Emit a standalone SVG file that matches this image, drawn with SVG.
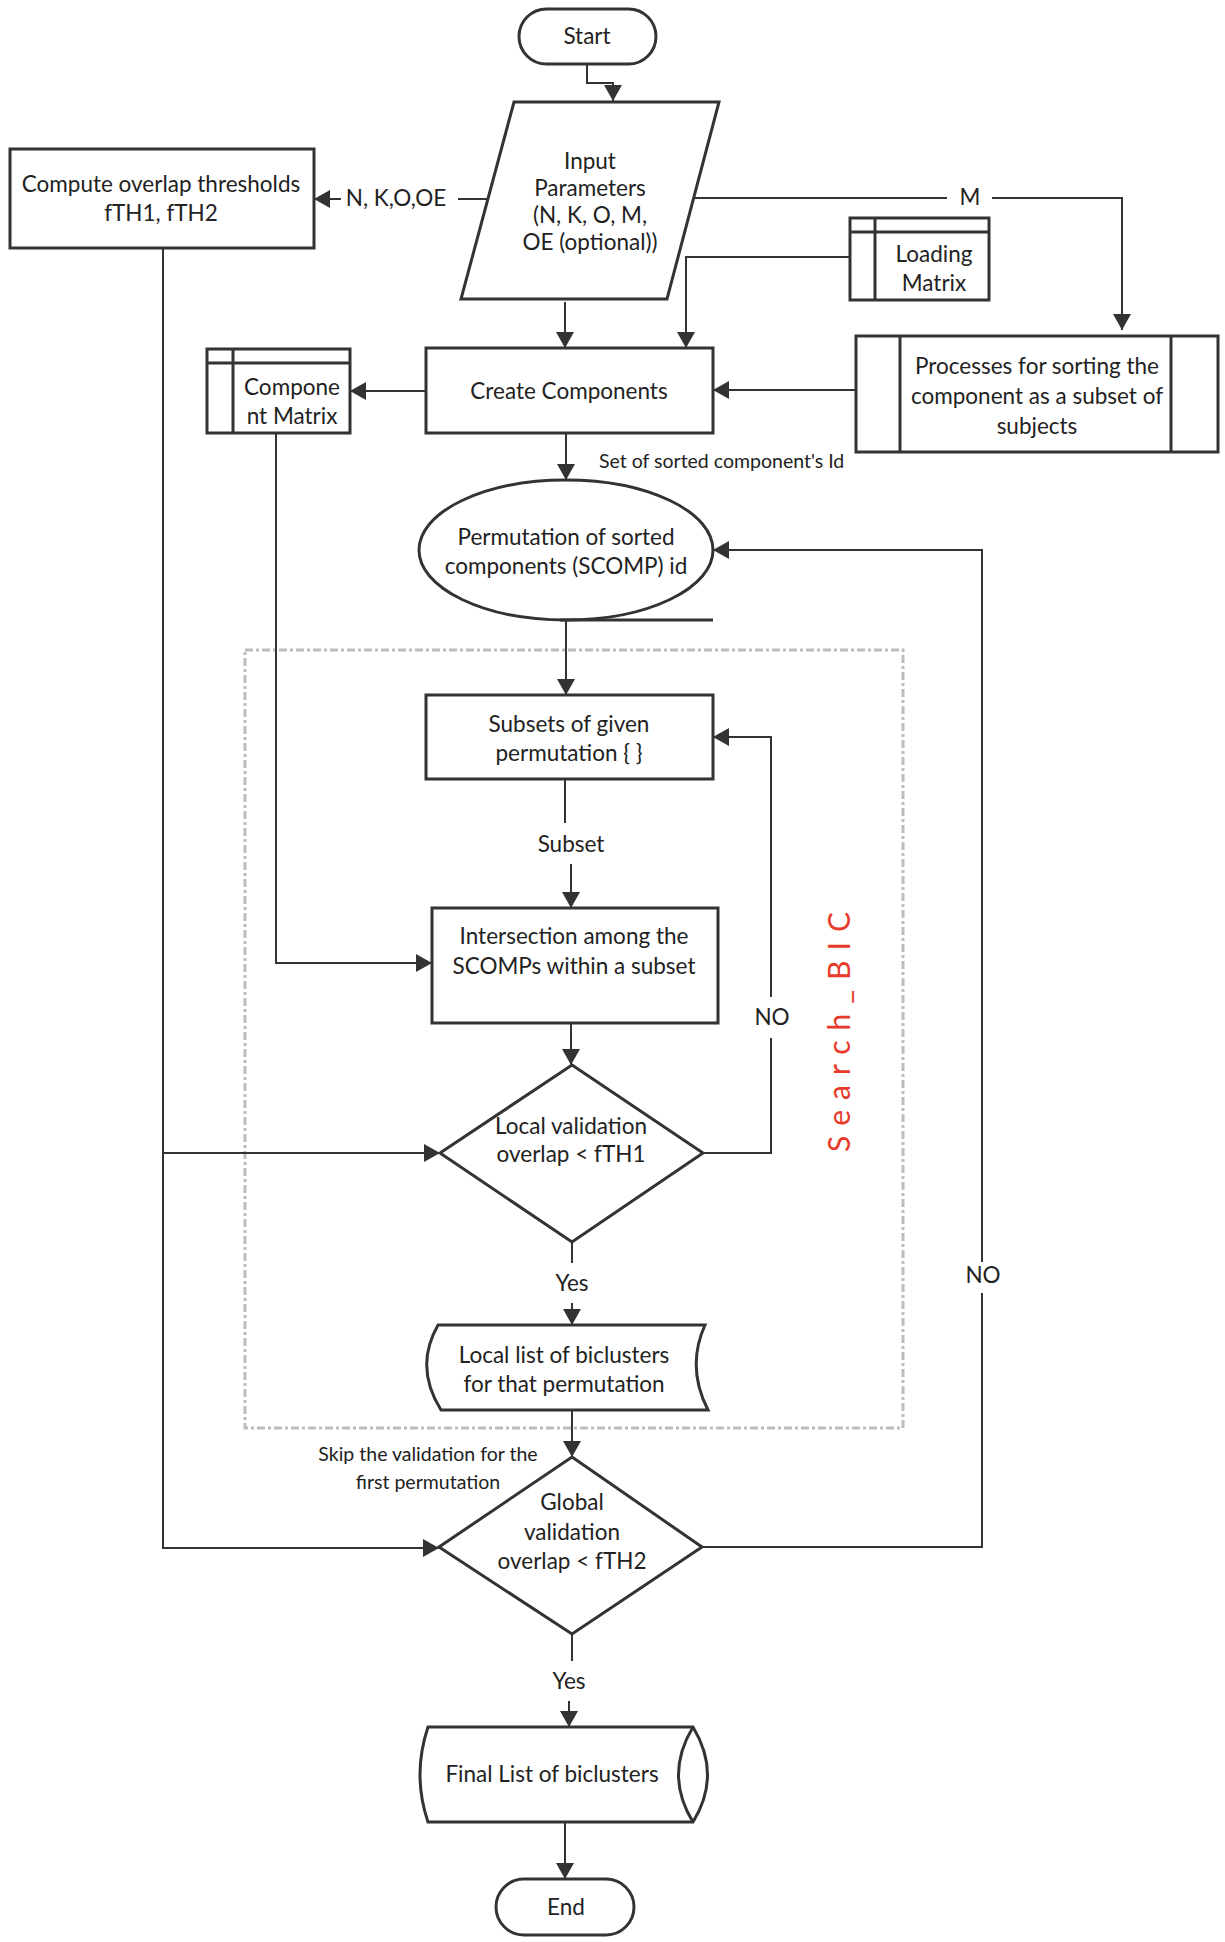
<svg xmlns="http://www.w3.org/2000/svg" width="1225" height="1942" viewBox="0 0 1225 1942">
<defs>
<marker id="arr" markerUnits="userSpaceOnUse" markerWidth="18" markerHeight="20" refX="16" refY="10" orient="auto">
<path d="M0,1 L16,10 L0,19 Z" fill="#333"/>
</marker>
<style>
.shape{fill:#fff;stroke:#333;stroke-width:3;}
.thin{fill:none;stroke:#333;stroke-width:3;}
.con{fill:none;stroke:#333;stroke-width:2;}
.t{font-family:Lato,"Liberation Sans",sans-serif;font-size:22.5px;fill:#222;text-anchor:middle;dominant-baseline:central;}
.s{font-size:19.5px;}
</style>
</defs>
<rect width="1225" height="1942" fill="#fff"/>

<g id="search-bic-group">
<rect x="245" y="650" width="658" height="778" fill="none" stroke="#bcbcbc" stroke-width="3" stroke-dasharray="8 3 3 3"/>
<text class="t" x="838" y="1027" transform="rotate(-90 838 1027)" style="fill:#e8392a;font-size:30px;letter-spacing:10px">Search_BIC</text>
</g>

<g id="connectors">
<path class="con" d="M587,64 V83 H613 V101" marker-end="url(#arr)"/>
<path class="con" d="M488,199 H458"/>
<path class="con" d="M341,199 H314" marker-end="url(#arr)"/>
<path class="con" d="M694,198 H947"/>
<path class="con" d="M992,198 H1122 V330" marker-end="url(#arr)"/>
<path class="con" d="M850,257 H686 V348" marker-end="url(#arr)"/>
<path class="con" d="M565,302 V348" marker-end="url(#arr)"/>
<path class="con" d="M856,390 H713" marker-end="url(#arr)"/>
<path class="con" d="M426,391 H350" marker-end="url(#arr)"/>
<path class="con" d="M566,433 V480" marker-end="url(#arr)"/>
<path class="con" d="M566,621 V695" marker-end="url(#arr)"/>
<path class="con" d="M565,779 V823"/>
<path class="con" d="M571,864 V908" marker-end="url(#arr)"/>
<path class="con" d="M276,433 V963 H432" marker-end="url(#arr)"/>
<path class="con" d="M571,1023 V1065" marker-end="url(#arr)"/>
<path class="con" d="M703,1153 H771 V1038"/>
<path class="con" d="M771,997 V737 H713" marker-end="url(#arr)"/>
<path class="con" d="M572,1242 V1263"/>
<path class="con" d="M572,1303 V1325" marker-end="url(#arr)"/>
<path class="con" d="M572,1411 V1457" marker-end="url(#arr)"/>
<path class="con" d="M163,248 V1548 H439" marker-end="url(#arr)"/>
<path class="con" d="M163,1153 H440" marker-end="url(#arr)"/>
<path class="con" d="M702,1547 H982 V1293"/>
<path class="con" d="M982,1262 V550 H713" marker-end="url(#arr)"/>
<path class="con" d="M572,1634 V1661"/>
<path class="con" d="M569,1701 V1727" marker-end="url(#arr)"/>
<path class="con" d="M565,1822 V1879" marker-end="url(#arr)"/>
<text class="t" x="396" y="197">N, K,O,OE</text>
<text class="t" x="970" y="196">M</text>
<text class="t s" x="599" y="460" style="text-anchor:start">Set of sorted component's Id</text>
<text class="t" x="571" y="843">Subset</text>
<text class="t" x="772" y="1016">NO</text>
<text class="t" x="572" y="1282">Yes</text>
<text class="t" x="983" y="1274">NO</text>
<text class="t s" x="428" y="1453">Skip the validation for the</text>
<text class="t s" x="428" y="1481">first permutation</text>
<text class="t" x="569" y="1680">Yes</text>
</g>

<g id="start">
<rect class="shape" x="519" y="9" width="137" height="55" rx="27.5"/>
<text class="t" x="587" y="35">Start</text>
</g>

<g id="input">
<polygon class="shape" points="514,102 719,102 667,299 461,299"/>
<text class="t" x="590" y="160">Input</text>
<text class="t" x="590" y="187">Parameters</text>
<text class="t" x="590" y="214">(N, K, O, M,</text>
<text class="t" x="590" y="241">OE (optional))</text>
</g>

<g id="compute">
<rect class="shape" x="10" y="149" width="304" height="99"/>
<text class="t" x="161" y="183">Compute overlap thresholds</text>
<text class="t" x="161" y="212">fTH1, fTH2</text>
</g>

<g id="loading-matrix">
<rect class="shape" x="850" y="218" width="139" height="82"/>
<line class="shape" x1="850" y1="232" x2="989" y2="232"/>
<line class="shape" x1="875" y1="218" x2="875" y2="300"/>
<text class="t" x="934" y="253">Loading</text>
<text class="t" x="934" y="282">Matrix</text>
</g>

<g id="processes">
<rect class="shape" x="856" y="336" width="362" height="116"/>
<line class="shape" x1="900" y1="336" x2="900" y2="452"/>
<line class="shape" x1="1171" y1="336" x2="1171" y2="452"/>
<text class="t" x="1037" y="365">Processes for sorting the</text>
<text class="t" x="1037" y="395">component as a subset of</text>
<text class="t" x="1037" y="425">subjects</text>
</g>

<g id="create">
<rect class="shape" x="426" y="348" width="287" height="85"/>
<text class="t" x="569" y="390">Create Components</text>
</g>

<g id="component-matrix">
<rect class="shape" x="207" y="349" width="143" height="84"/>
<line class="shape" x1="207" y1="363" x2="350" y2="363"/>
<line class="shape" x1="233" y1="349" x2="233" y2="433"/>
<text class="t" x="292" y="386">Compone</text>
<text class="t" x="292" y="415">nt Matrix</text>
</g>

<g id="permutation">
<ellipse class="shape" cx="566" cy="550" rx="147" ry="70"/>
<line class="shape" x1="560" y1="620" x2="713" y2="620"/>
<text class="t" x="566" y="536">Permutation of sorted</text>
<text class="t" x="566" y="565">components (SCOMP) id</text>
</g>

<g id="subsets">
<rect class="shape" x="426" y="695" width="287" height="84"/>
<text class="t" x="569" y="723">Subsets of given</text>
<text class="t" x="569" y="752">permutation { }</text>
</g>

<g id="intersection">
<rect class="shape" x="432" y="908" width="286" height="115"/>
<text class="t" x="574" y="935">Intersection among the</text>
<text class="t" x="574" y="965">SCOMPs within a subset</text>
</g>

<g id="local-validation">
<polygon class="shape" points="572,1065 703,1153 572,1242 440,1153"/>
<text class="t" x="571" y="1125">Local validation</text>
<text class="t" x="571" y="1153">overlap &lt; fTH1</text>
</g>

<g id="local-list">
<path class="shape" d="M438,1325 H705 Q686,1367 708,1410 H441 Q414,1367 438,1325 Z"/>
<text class="t" x="564" y="1354">Local list of biclusters</text>
<text class="t" x="564" y="1383">for that permutation</text>
</g>

<g id="global-validation">
<polygon class="shape" points="572,1457 702,1547 572,1634 439,1547"/>
<text class="t" x="572" y="1501">Global</text>
<text class="t" x="572" y="1531">validation</text>
<text class="t" x="572" y="1560">overlap &lt; fTH2</text>
</g>

<g id="final-list">
<path class="shape" d="M428,1727 H693 Q722,1775 693,1822 H428 Q412,1775 428,1727 Z"/>
<path class="thin" d="M693,1727 Q664,1775 693,1822"/>
<text class="t" x="552" y="1773">Final List of biclusters</text>
</g>

<g id="end">
<rect class="shape" x="496" y="1879" width="138" height="56" rx="28"/>
<text class="t" x="566" y="1906">End</text>
</g>
</svg>
